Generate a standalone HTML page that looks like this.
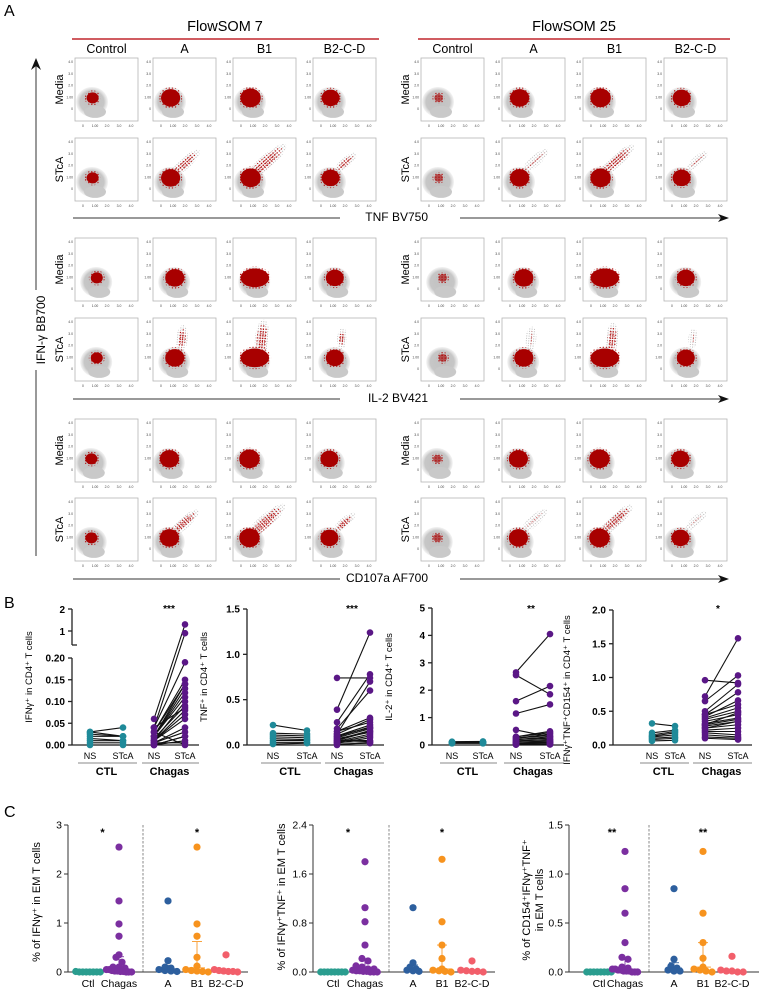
<!DOCTYPE html>
<html><head><meta charset="utf-8">
<style>
html,body{margin:0;padding:0;background:#fff;}
body{width:760px;height:992px;overflow:hidden;}
svg{display:block;font-family:"Liberation Sans",sans-serif;}
</style></head>
<body>
<svg id="fig" width="760" height="992" viewBox="0 0 760 992" xmlns="http://www.w3.org/2000/svg">
<defs>
<pattern id="redDots" width="2.2" height="2.2" patternUnits="userSpaceOnUse"><rect x="0" y="0" width="1.1" height="1.1" fill="#b00000"/></pattern>
<pattern id="redDots2" width="3.1" height="2.7" patternUnits="userSpaceOnUse"><rect x="1.3" y="1.1" width="1.2" height="1.2" fill="#b00000"/></pattern>
<pattern id="grayDots" width="2.4" height="2.4" patternUnits="userSpaceOnUse"><rect x="0" y="0" width="1" height="1" fill="#bbb"/></pattern>
<radialGradient id="grayGrad"><stop offset="0" stop-color="#c2c2c2"/><stop offset="0.75" stop-color="#c6c6c6"/><stop offset="1" stop-color="#d8d8d8" stop-opacity="0.3"/></radialGradient>
</defs>
<g id="panelA"></g>
<g id="panelB"></g>
<g id="panelC"></g>
</svg>
<script>
// ---------- Panel A data ----------
const groupTitles = ["FlowSOM 7", "FlowSOM 25"];
const colTitles = ["Control", "A", "B1", "B2-C-D"];
const markerTitles = ["TNF BV750", "IL-2 BV421", "CD107a AF700"];
const rowTitles = ["Media", "STcA"];
const redRadius = [0.5, 0.8, 0.85, 0.75];
const streakTNF = [0, 0.55, 1.0, 0.3];
const streakIL2 = [0, 0.55, 1.0, 0.3];
const streakCD107 = [0, 0.55, 1.0, 0.3];
const clusterX = [0.8, 1.15, 0.7];
// ---------- Panel B data ----------
const bCtlNS1 = [0.03,0.025,0.02,0.015,0.01,0.005,0.0,0.03];
const bCtlST1 = [0.04,0.02,0.02,0.01,0.01,0.005,0.0,0.02];
const bChNS1 = [0.06,0.04,0.04,0.03,0.03,0.02,0.02,0.02,0.015,0.01,0.01,0.01,0.005,0.005,0.0,0.0,0.03,0.02,0.01,0.04,0.005,0.0];
const bChST1 = [1.3,0.9,0.19,0.15,0.14,0.13,0.12,0.11,0.09,0.08,0.07,0.06,0.04,0.03,0.02,0.01,0.0,0.14,0.10,0.085,0.005,0.02];
const bCtlNS2 = [0.22,0.13,0.11,0.09,0.07,0.05,0.03,0.01];
const bCtlST2 = [0.16,0.12,0.1,0.08,0.06,0.05,0.03,0.02];
const bChNS2 = [0.74,0.39,0.25,0.18,0.15,0.12,0.1,0.09,0.08,0.06,0.05,0.04,0.03,0.02,0.15,0.1,0.07,0.05,0.03,0.01,0.0,0.12];
const bChST2 = [0.74,1.24,0.78,0.6,0.3,0.28,0.22,0.2,0.18,0.16,0.15,0.12,0.1,0.08,0.25,0.19,0.14,0.05,0.04,0.02,0.03,0.7];
const bCtlNS3 = [0.12,0.1,0.1,0.09,0.08,0.08,0.07,0.06];
const bCtlST3 = [0.13,0.11,0.1,0.1,0.09,0.08,0.07,0.06];
const bChNS3 = [2.65,2.55,1.6,1.15,0.55,0.3,0.25,0.2,0.15,0.1,0.1,0.05,0.05,0.2,0.15,0.1,0.05,0.02,0.02,0.3,0.25,0.01];
const bChST3 = [4.05,1.85,2.15,1.48,0.3,0.5,0.4,0.25,0.2,0.15,0.1,0.1,0.05,0.3,0.2,0.15,0.1,0.05,0.02,0.45,0.35,0.02];
const bCtlNS4 = [0.32,0.18,0.15,0.13,0.12,0.1,0.08,0.06];
const bCtlST4 = [0.28,0.22,0.2,0.18,0.15,0.12,0.1,0.07];
const bChNS4 = [0.96,0.72,0.65,0.5,0.45,0.42,0.4,0.38,0.35,0.32,0.3,0.28,0.25,0.22,0.2,0.18,0.15,0.12,0.1,0.45,0.3,0.25];
const bChST4 = [0.92,1.58,1.03,0.9,0.78,0.66,0.55,0.5,0.45,0.4,0.38,0.35,0.3,0.25,0.2,0.15,0.12,0.1,0.08,0.6,0.48,0.35];
const bYLabels = ["IFNγ⁺ in CD4⁺ T cells","TNF⁺ in CD4⁺ T cells","IL-2⁺ in CD4⁺ T cells","IFNγ⁺TNF⁺CD154⁺ in CD4⁺ T cells"];
const bStars = ["***","***","**","*"];
// ---------- Panel C data ----------
const cCats = ["Ctl","Chagas","A","B1","B2-C-D"];
const cCtl1 = [0,0,0,0,0,0,0,0.01];
const cCh1 = [2.55,1.45,0.98,0.73,0.35,0.3,0.2,0.1,0.08,0.05,0.03,0.02,0.01,0.01,0,0,0.05,0.1,0.02,0];
const cA1 = [1.45,0.23,0.1,0.08,0.05,0.03,0.02,0.01];
const cB11 = [2.55,0.98,0.73,0.3,0.12,0.05,0.03,0.02,0.01,0];
const cB21 = [0.35,0.05,0.03,0.02,0.01,0.01,0];
const cCtl2 = [0,0,0,0,0,0,0,0];
const cCh2 = [1.8,1.05,0.82,0.44,0.22,0.18,0.1,0.08,0.05,0.03,0.02,0.01,0.01,0,0,0.05,0.02,0];
const cA2 = [1.05,0.15,0.08,0.05,0.03,0.02,0.01];
const cB12 = [1.84,0.82,0.44,0.22,0.05,0.03,0.02,0.01,0];
const cB22 = [0.18,0.03,0.02,0.01,0.01,0];
const cCtl3 = [0,0,0,0,0,0,0,0];
const cCh3 = [1.23,0.85,0.6,0.3,0.15,0.13,0.05,0.04,0.03,0.02,0.01,0.01,0,0,0.02,0.03,0.01,0];
const cA3 = [0.85,0.13,0.06,0.04,0.02,0.01,0.01];
const cB13 = [1.23,0.6,0.3,0.14,0.05,0.03,0.02,0.01,0];
const cB23 = [0.16,0.02,0.01,0.01,0,0];
const cYLabels = [["% of IFNγ⁺ in EM T cells"],["% of IFNγ⁺TNF⁺ in EM T cells"],["% of CD154⁺IFNγ⁺TNF⁺","in EM T cells"]];
const cStars = [["*","*"],["*","*"],["**","**"]];
const cMax = [3,2.4,1.5];
const cTicks1 = ["0","1","2","3"];
const cTicks2 = ["0.0","0.8","1.6","2.4"];
const cTicks3 = ["0.0","0.5","1.0","1.5"];

const NS="http://www.w3.org/2000/svg";
function mk(parent, tag, attrs, text){
  const e=document.createElementNS(NS,tag);
  for(const k in attrs) e.setAttribute(k,attrs[k]);
  if(text!==undefined) e.textContent=text;
  parent.appendChild(e); return e;
}

// ================= PANEL A =================
const A=document.getElementById('panelA');
let t=mk(A,'text',{x:4,y:16,'font-size':16},"A");


const colX=[[75,153,233,313],[421,502,583,664]];
const BW=63, BH=63;
const rowY=[[58,138],[238,318],[419,498]];
const lineY=[218,399,579];
const groupCenters=[225,574];
for(let g=0;g<2;g++){
  t=mk(A,'text',{x:groupCenters[g],y:31,'font-size':14.5,'text-anchor':'middle'},groupTitles[g]);
  
  
  let l=mk(A,'line',{x1:colX[g][0]-3,x2:colX[g][3]+BW+3,y1:39,y2:39,stroke:'#c0272d','stroke-width':1.5});
  
  
  for(let c=0;c<4;c++){
    t=mk(A,'text',{x:colX[g][c]+BW/2,y:53,'font-size':12.5,'text-anchor':'middle'},colTitles[c]);
    
    
  }
}
let ya=mk(A,'g',{});


mk(ya,'line',{x1:36,x2:36,y1:66,y2:290,stroke:'#333','stroke-width':1});
mk(ya,'line',{x1:36,x2:36,y1:370,y2:556,stroke:'#333','stroke-width':1});
mk(ya,'path',{d:'M31,70 L36,58 L41,70 L36,66 Z',fill:'#111'});
t=mk(A,'text',{x:0,y:0,'font-size':12,'text-anchor':'middle',transform:'translate(45,330) rotate(-90)'},"IFN-γ BB700");



const streaks=[streakTNF,streakIL2,streakCD107];
function scatter(x0,y0,m,g,c,r){
  const gg=mk(A,'g',{});
  
  
  const sx=v=>x0+8+v*12, sy=v=>y0+51-v*11.7;
  mk(gg,'rect',{x:x0,y:y0,width:BW,height:BH,fill:'#fff',stroke:'#b5b5b5','stroke-width':0.8});
  const tl=["0","1.00","2.0","3.0","4.0"];
  for(let i=0;i<5;i++){
    mk(gg,'text',{x:x0-2,y:sy(i)+1,'font-size':3.4,'text-anchor':'end',fill:'#444'},tl[i]);
    mk(gg,'text',{x:sx(i),y:y0+BH+6,'font-size':3.4,'text-anchor':'middle',fill:'#444'},tl[i]);
  }
  const cx=clusterX[m];
  mk(gg,'ellipse',{cx:sx(cx-0.05),cy:sy(0.6),rx:16,ry:15,fill:'url(#grayGrad)'});
  mk(gg,'ellipse',{cx:sx(cx+0.2),cy:sy(-0.25),rx:11,ry:6,fill:'#c9c9c9'});
  const st=r===1?streaks[m][c]*(g===0?1:0.75):0;
  if(st>0){
    let ex,ey,ang,len;
    if(m===1){ex=sx(cx+0.6);ey=sy(2.6);ang=-85;len=12*st+4;}
    else {ex=sx(cx+1.2);ey=sy(2.2);ang=-42;len=19*st+6;}
    if(g===1&&m!==1){ex=sx(cx+1.3);ey=sy(2.4);}
    mk(gg,'ellipse',{cx:ex,cy:ey,rx:len+3,ry:4+3*st,transform:`rotate(${ang} ${ex} ${ey})`,fill:'url(#grayDots)'});
    const rs=(g===1 && c!==2)?0.35:1;
    mk(gg,'ellipse',{cx:ex,cy:ey,rx:len*0.9,ry:(2+3.5*st)*rs,transform:`rotate(${ang} ${ex} ${ey})`,fill:'url(#redDots2)',opacity:rs<1?0.6:1});
    mk(gg,'ellipse',{cx:ex,cy:ey,rx:len*0.6,ry:(1.5+2*st)*rs,transform:`rotate(${ang} ${ex} ${ey})`,fill:'url(#redDots)',opacity:rs<1?0.5:0.9});
  }
  let rr=redRadius[c]*(g===1&&c===0?0.7:1);
  let rxs=rr*12, rys=rr*11;
  if(m===1 && c===2){rxs*=1.4;}
  mk(gg,'ellipse',{cx:sx(cx),cy:sy(0.95),rx:rxs+2,ry:rys+2,fill:'url(#redDots2)'});
  mk(gg,'ellipse',{cx:sx(cx),cy:sy(0.95),rx:rxs,ry:rys,fill:'#a80000',opacity:(g===1&&c===0)?0.6:1});
}
for(let m=0;m<3;m++){
  for(let r=0;r<2;r++){
    for(let g=0;g<2;g++){
      t=mk(A,'text',{x:0,y:0,'font-size':11,'text-anchor':'middle',transform:`translate(${colX[g][0]-12},${rowY[m][r]+BH/2}) rotate(-90)`},rowTitles[r]);
      
      
      for(let c=0;c<4;c++) scatter(colX[g][c],rowY[m][r],m,g,c,r);
    }
  }
  const ly=lineY[m];
  let xa=mk(A,'g',{});
  
  
  mk(xa,'line',{x1:73,x2:340,y1:ly,y2:ly,stroke:'#333','stroke-width':1});
  mk(xa,'line',{x1:460,x2:722,y1:ly,y2:ly,stroke:'#333','stroke-width':1});
  mk(xa,'path',{d:`M718,${ly-4} L729,${ly} L718,${ly+4} L721,${ly} Z`,fill:'#111'});
  t=mk(A,'text',{x:428,y:ly+3,'font-size':12,'text-anchor':'end'},markerTitles[m]);
  
  
}

// ================= PANEL B =================
const B=document.getElementById('panelB');
t=mk(B,'text',{x:4,y:608,'font-size':16},"B");


const bAxisX=[72,247,432,613];
const bXs=[[90,123,154,185],[273,307,337,370],[452,483,516,550],[652,675,705,738]];
const bData=[[bCtlNS1,bCtlST1,bChNS1,bChST1],[bCtlNS2,bCtlST2,bChNS2,bChST2],[bCtlNS3,bCtlST3,bChNS3,bChST3],[bCtlNS4,bCtlST4,bChNS4,bChST4]];
const bMax=[0.2,1.5,5,2.0];
const bTicks=[["0.00","0.05","0.10","0.15","0.20"],["0.0","0.5","1.0","1.5"],["0","1","2","3","4","5"],["0.0","0.5","1.0","1.5","2.0"]];
const bTop=[658,609,608,610];
const bBot=745;
const teal="#1f8a99", purple="#5a1786";
for(let p=0;p<4;p++){
  const gp=mk(B,'g',{});
  
  
  const ax=bAxisX[p];
  const top=bTop[p];
  const y=v=>{
    if(p===0 && v>0.2){ return 631-(v-1)*22; }
    return bBot-(v/bMax[p])*(bBot-top);
  };
  mk(gp,'line',{x1:ax,x2:ax,y1:top,y2:bBot,stroke:'#222','stroke-width':1.3});
  mk(gp,'line',{x1:ax,x2:bXs[p][3]+14,y1:bBot,y2:bBot,stroke:'#222','stroke-width':1.3});
  if(p===0){
    mk(gp,'line',{x1:ax,x2:ax,y1:609,y2:645,stroke:'#222','stroke-width':1.3});
    mk(gp,'line',{x1:ax,x2:ax+5,y1:645,y2:645,stroke:'#222','stroke-width':1.3});
    mk(gp,'line',{x1:ax,x2:ax-4,y1:609,y2:609,stroke:'#222','stroke-width':1.3});
    mk(gp,'line',{x1:ax,x2:ax-4,y1:631,y2:631,stroke:'#222','stroke-width':1.3});
    mk(gp,'text',{x:ax-7,y:613,'font-size':10,'font-weight':'bold','text-anchor':'end'},"2");
    mk(gp,'text',{x:ax-7,y:635,'font-size':10,'font-weight':'bold','text-anchor':'end'},"1");
  }
  const tk=bTicks[p];
  for(let i=0;i<tk.length;i++){
    const v=i*bMax[p]/(tk.length-1);
    const yy=bBot-(v/bMax[p])*(bBot-top);
    mk(gp,'line',{x1:ax,x2:ax-4,y1:yy,y2:yy,stroke:'#222','stroke-width':1.3});
    mk(gp,'text',{x:ax-7,y:yy+3.5,'font-size':10,'font-weight':'bold','text-anchor':'end'},tk[i]);
  }
  t=mk(gp,'text',{x:0,y:0,'font-size':9.5,'text-anchor':'middle',transform:`translate(${p===3?ax-43:ax-40},${p===3?690:677}) rotate(-90)`},bYLabels[p]);
  
  
  t=mk(gp,'text',{x:bXs[p][2]+(p===3?13:15),y:612,'font-size':10,'font-weight':'bold','text-anchor':'middle'},bStars[p]);
  
  
  const d=bData[p];
  for(let s=0;s<2;s++){
    const ns=d[s*2], st=d[s*2+1], col=s===0?teal:purple;
    const x1=bXs[p][s*2], x2=bXs[p][s*2+1];
    for(let i=0;i<ns.length;i++){
      let l=mk(gp,'line',{x1:x1,x2:x2,y1:y(ns[i]),y2:y(st[i]),stroke:'#111','stroke-width':1.1});
      
      
    }
    for(let i=0;i<ns.length;i++){
      let c1=mk(gp,'circle',{cx:x1,cy:y(ns[i]),r:3.3,fill:col});
      
      
      let c2=mk(gp,'circle',{cx:x2,cy:y(st[i]),r:3.3,fill:col});
      
      
    }
    mk(gp,'text',{x:x1,y:759,'font-size':9,'text-anchor':'middle'},"NS");
    mk(gp,'text',{x:x2,y:759,'font-size':9,'text-anchor':'middle'},"STcA");
    mk(gp,'line',{x1:x1-12,x2:x2+14,y1:763,y2:763,stroke:'#888','stroke-width':1});
    mk(gp,'text',{x:(x1+x2)/2,y:775,'font-size':11,'font-weight':'bold','text-anchor':'middle'},s===0?"CTL":"Chagas");
  }
}

// ================= PANEL C =================
const C=document.getElementById('panelC');
t=mk(C,'text',{x:4,y:817,'font-size':16},"C");


const cAxisX=[68,313,569];
const cXs=[[88,119,168,197,226],[333,365,413,442,472],[599,625,674,703,732]];
const cDash=[143,389,649];
const cEnd=[248,495,759];
const cData=[[cCtl1,cCh1,cA1,cB11,cB21],[cCtl2,cCh2,cA2,cB12,cB22],[cCtl3,cCh3,cA3,cB13,cB23]];
const cTicks=[cTicks1,cTicks2,cTicks3];
const cCols=["#2a9d8f","#7b2fa0","#2d5f9e","#f7931e","#f25f6b"];
const cTop=825, cBot=972;
function quant(arr,q){const s=arr.slice().sort((a,b)=>a-b);const pos=(s.length-1)*q;const lo=Math.floor(pos),hi=Math.ceil(pos);return s[lo]+(s[hi]-s[lo])*(pos-lo);}
for(let p=0;p<3;p++){
  const gp=mk(C,'g',{});
  
  
  const ax=cAxisX[p];
  const y=v=>cBot-(v/cMax[p])*(cBot-cTop);
  mk(gp,'line',{x1:ax,x2:ax,y1:cTop,y2:cBot,stroke:'#333','stroke-width':1});
  mk(gp,'line',{x1:ax,x2:cEnd[p],y1:cBot,y2:cBot,stroke:'#333','stroke-width':1});
  mk(gp,'line',{x1:cDash[p],x2:cDash[p],y1:cTop,y2:cBot,stroke:'#888','stroke-width':1,'stroke-dasharray':'2.5,1.5'});
  const tk=cTicks[p];
  for(let i=0;i<tk.length;i++){
    const yy=y(i*cMax[p]/(tk.length-1));
    mk(gp,'line',{x1:ax,x2:ax-4,y1:yy,y2:yy,stroke:'#333','stroke-width':1});
    mk(gp,'text',{x:ax-6,y:yy+3.5,'font-size':10.5,'text-anchor':'end'},tk[i]);
  }
  const lab=cYLabels[p];
  if(lab.length===1){
    t=mk(gp,'text',{x:0,y:0,'font-size':11,'text-anchor':'middle',transform:`translate(${ax-28},${p===0?902:897}) rotate(-90)`},lab[0]);
  } else {
    t=mk(gp,'text',{x:0,y:0,'font-size':11,'text-anchor':'middle',transform:`translate(${ax-39},${900}) rotate(-90)`},lab[0]);
    mk(gp,'text',{x:0,y:0,'font-size':11,'text-anchor':'middle',transform:`translate(${ax-26},${900}) rotate(-90)`},lab[1]);
  }
  
  
  for(let k=0;k<2;k++){
    t=mk(gp,'text',{x:k===0?cXs[p][0]+(cXs[p][1]-cXs[p][0])/2+(p===2?0:-1):cXs[p][3],y:836,'font-size':11,'font-weight':'bold','text-anchor':'middle'},cStars[p][k]);
    
    
  }
  for(let c=0;c<5;c++){
    const arr=cData[p][c], cx=cXs[p][c], col=cCols[c];
    mk(gp,'text',{x:cx,y:987,'font-size':10.5,'text-anchor':'middle'},cCats[c]);
    const bins={};
    const sorted=arr.slice().sort((a,b)=>b-a);
    for(const v of sorted){
      const py=y(v); const key=Math.round(py/6);
      bins[key]=(bins[key]||0)+1;
    }
    const used={};
    for(const v of sorted){
      const py=y(v); const key=Math.round(py/6);
      const n=bins[key]; const idx=used[key]||0; used[key]=idx+1;
      const w=Math.min(6,28/Math.max(n,1));
      const off=(idx-(n-1)/2)*w;
      let dot=mk(gp,'circle',{cx:cx+off,cy:py,r:3.6,fill:col});
      
      
    }
    if(c>0){
      const med=quant(arr,0.5), q3=quant(arr,0.75), q1=quant(arr,0.25);
      let eb=mk(gp,'g',{stroke:col,'stroke-width':1,opacity:0.85});
      
      
      mk(eb,'line',{x1:cx,x2:cx,y1:y(q1),y2:y(q3)});
      mk(eb,'line',{x1:cx-8,x2:cx+8,y1:y(med),y2:y(med)});
      mk(eb,'line',{x1:cx-5,x2:cx+5,y1:y(q3),y2:y(q3)});
    }
  }
}
</script>
</body></html>
